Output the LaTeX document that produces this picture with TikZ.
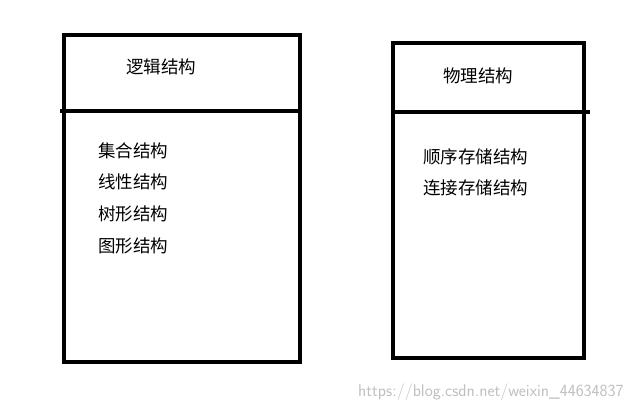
\documentclass[tikz,border=0pt]{standalone}
\usepackage{fontspec}
\newfontfamily\cjk{Noto Sans CJK SC}
\begin{document}
\begin{tikzpicture}[x=1pt,y=-1pt,
  box/.style={draw=black,line width=4pt},
  lbl/.style={font=\cjk\fontsize{17.5}{20}\selectfont,inner sep=0pt,anchor=west},
  wm/.style={font=\fontsize{17}{19}\selectfont\sffamily,text=black!25,inner sep=0pt,anchor=west}]
\useasboundingbox (0,0) rectangle (638,411);
\draw[box] (64,35) rectangle (300,362);
\draw[box] (60,111) -- (300,111);
\draw[box] (393,43) rectangle (584,358);
\draw[box] (393,112) -- (590,112);
\node[lbl] (l0) at (126,67) {逻辑结构};
\node[lbl] (l1) at (98,151) {集合结构};
\node[lbl] (l2) at (98,182) {线性结构};
\node[lbl] (l3) at (98,214) {树形结构};
\node[lbl] (l4) at (98,246) {图形结构};
\node[lbl] (r0) at (443,76) {物理结构};
\node[lbl] (r1) at (423,157) {顺序存储结构};
\node[lbl] (r2) at (423,188) {连接存储结构};
\node[wm] (w) at (358,392) {https://blog.csdn.net/weixin\_44634837};
\end{tikzpicture}
\end{document}
